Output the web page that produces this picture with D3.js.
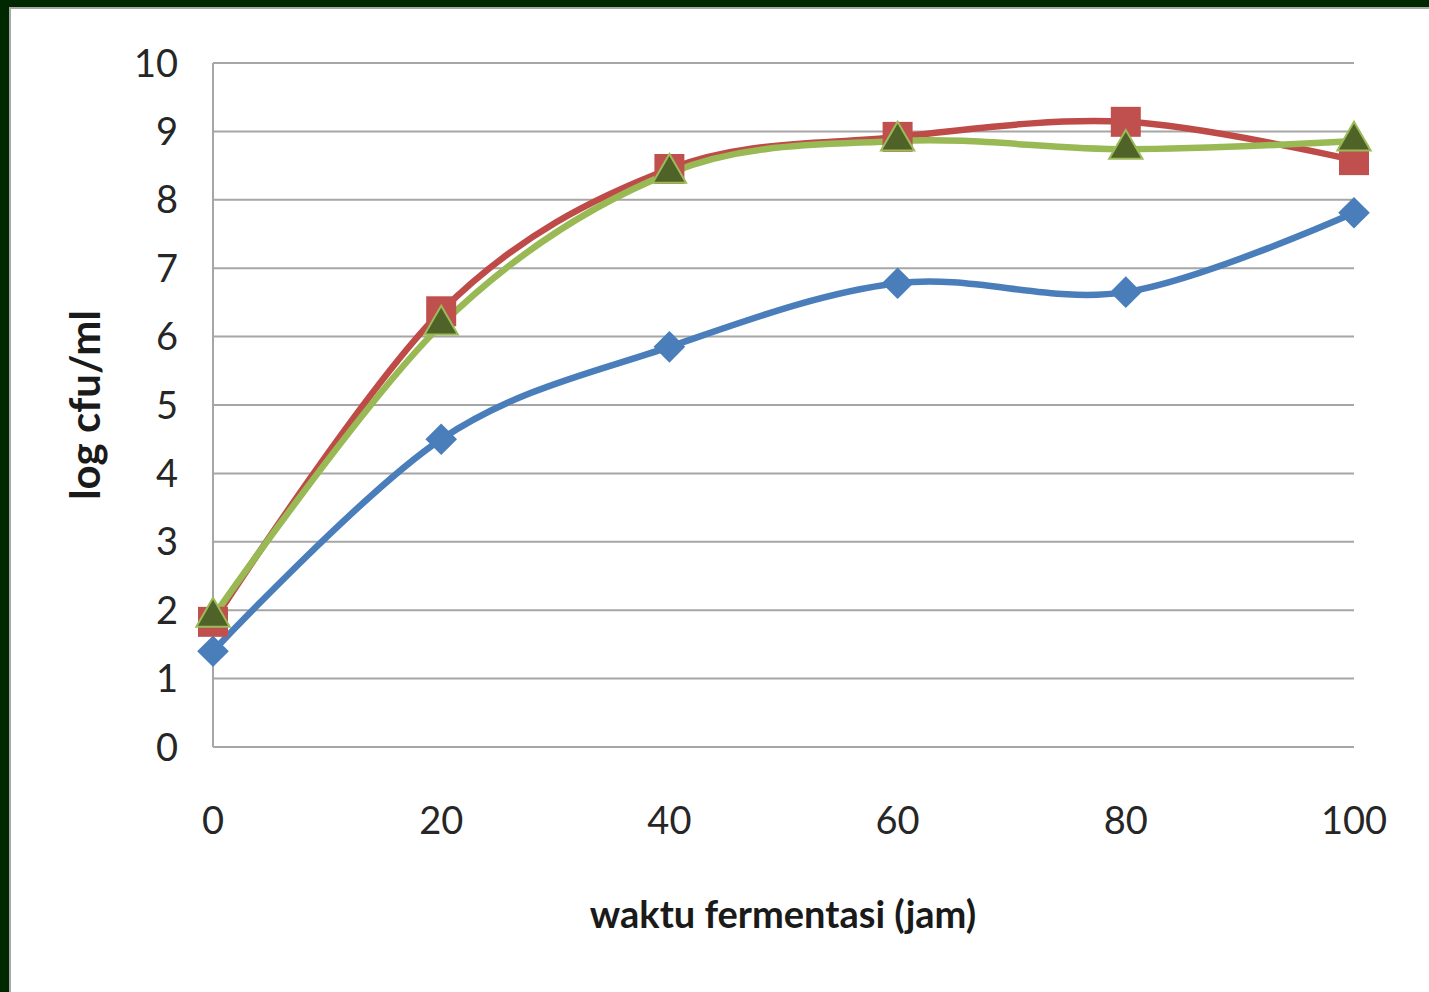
<!DOCTYPE html>
<html>
<head>
<meta charset="utf-8">
<script src="https://cdn.jsdelivr.net/npm/d3@7"></script>
<style>
  html, body { margin: 0; padding: 0; background: #fff; }
  #app { width: 1429px; height: 992px; overflow: hidden; }
</style>
</head>
<body>
<div id="app"></div>
<script>
// data
const hours     = [0, 20, 40, 60, 80, 100];
const blueVals  = [1.40, 4.50, 5.85, 6.78, 6.65, 7.81];
const redVals   = [1.83, 6.37, 8.45, 8.92, 9.14, 8.58];
const greenVals = [1.90, 6.17, 8.39, 8.86, 8.74, 8.86];
const yTicks    = [0, 1, 2, 3, 4, 5, 6, 7, 8, 9, 10];
const xTicks    = [0, 20, 40, 60, 80, 100];

const W = 1429, H = 992;
// m = margin, plot area is from left 213 to 1354, top 63 to 747
const m = { t: 63, r: 75, b: 245, l: 213 };

const svg = d3.select("#app").append("svg")
    .attr("width", W).attr("height", H);

// dark green frame (only top and left visible)
svg.append("rect").attr("x", 0).attr("y", 0).attr("width", W).attr("height", H).attr("fill", "#002800");
svg.append("rect").attr("x", 9).attr("y", 7).attr("width", W - 9).attr("height", H - 7).attr("fill", "#a8a8a8");
svg.append("rect").attr("x", 11).attr("y", 9).attr("width", W - 11).attr("height", H - 9).attr("fill", "#ffffff");

const x = d3.scaleLinear().domain([0, 100]).range([m.l, W - m.r]);
const y = d3.scaleLinear().domain([0, 10]).range([H - m.b, m.t]);

// grid lines
svg.append("g").selectAll("line")
    .data(yTicks).enter()
    .append("line")
    .attr("x1", x(0)).attr("x2", x(100))
    .attr("y1", d => y(d)).attr("y2", d => y(d))
    .attr("stroke", "#a6a6a6").attr("stroke-width", 2);

svg.append("line")
    .attr("x1", x(0)).attr("x2", x(0))
    .attr("y1", y(0)).attr("y2", y(10))
    .attr("stroke", "#a6a6a6").attr("stroke-width", 2);

const font = "Lato, 'Open Sans', sans-serif";

// y tick labels
svg.append("g").selectAll("text")
    .data(yTicks).enter()
    .append("text")
    .attr("x", 178).attr("y", d => y(d))
    .attr("dy", "0.36em")
    .attr("text-anchor", "end")
    .attr("font-family", font).attr("font-size", 38)
    .attr("fill", "#262626")
    .text(d => d);

// x tick labels
svg.append("g").selectAll("text")
    .data(xTicks).enter()
    .append("text")
    .attr("x", d => x(d)).attr("y", 834)
    .attr("text-anchor", "middle")
    .attr("font-family", font).attr("font-size", 38)
    .attr("fill", "#262626")
    .text(d => d);

// axis titles
svg.append("text")
    .attr("x", 783).attr("y", 928)
    .attr("text-anchor", "middle")
    .attr("font-family", font).attr("font-size", 38).attr("font-weight", "bold")
    .attr("fill", "#1a1a1a")
    .text("waktu fermentasi (jam)");

svg.append("text")
    .attr("transform", "translate(100,405) rotate(-90)")
    .attr("text-anchor", "middle")
    .attr("font-family", font).attr("font-size", 42).attr("font-weight", "bold")
    .attr("fill", "#1a1a1a")
    .text("log cfu/ml");

const line = d3.line()
    .x((d, i) => x(hours[i]))
    .y(d => y(d))
    .curve(d3.curveCardinal.tension(0));

const series = [
  { vals: blueVals,  color: "#4a7ebb", symbol: d3.symbolSquare,   size: 500, rot: 45, fill: "#4a7ebb", stroke: "none" },
  { vals: redVals,   color: "#be4b48", symbol: d3.symbolSquare,   size: 900, rot: 0,  fill: "#c0504d", stroke: "none" },
  { vals: greenVals, color: "#98b954", symbol: d3.symbolTriangle, size: 480, rot: 0,  fill: "#4f6228", stroke: "#9bbb59" }
];

series.forEach(s => {
  svg.append("path")
      .datum(s.vals)
      .attr("d", line)
      .attr("fill", "none")
      .attr("stroke", s.color)
      .attr("stroke-width", 6.5)
      .attr("stroke-linejoin", "round");
});

series.forEach(s => {
  svg.append("g").selectAll("path")
      .data(s.vals).enter()
      .append("path")
      .attr("transform", (d, i) => "translate(" + x(hours[i]) + "," + y(d) + ") rotate(" + s.rot + ")")
      .attr("d", d3.symbol().type(s.symbol).size(s.size))
      .attr("fill", s.fill)
      .attr("stroke", s.stroke)
      .attr("stroke-width", 2);
});
</script>
</body>
</html>
